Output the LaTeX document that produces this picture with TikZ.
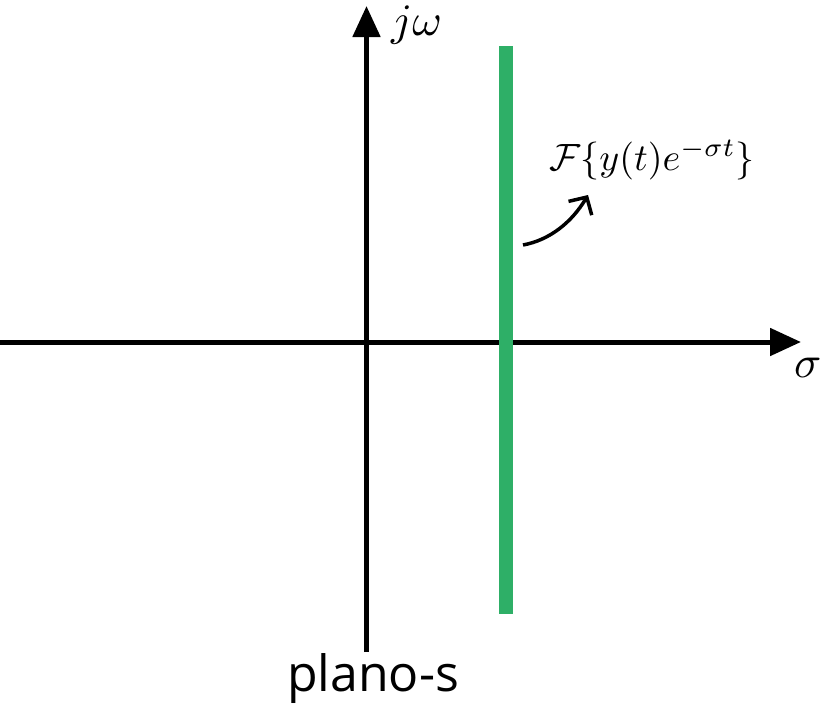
\documentclass[tikz,border=0pt]{standalone}
\usepackage{graphicx}
\usepackage{fontspec}
\newfontfamily\labelfont{Open Sans}
\usetikzlibrary{arrows.meta}
\definecolor{sgreen}{RGB}{46,175,103}
\tikzset{
  axis/.style={line width=5pt, -{Triangle[length=31pt,width=27pt]}},
  band/.style={line width=14pt, draw=sgreen},
  pointer/.style={line width=3.5pt, -{Straight Barb[length=13pt,width=27pt]}},
  lbl/.style={inner sep=0pt, text=black}
}
\begin{document}
\begin{tikzpicture}[x=1pt,y=-1pt]
\useasboundingbox (0,0) rectangle (822,718);
\coordinate (xstart) at (0,342);
\coordinate (xend) at (801,342);
\coordinate (ystart) at (366.5,652);
\coordinate (yend) at (366.5,6);
\coordinate (gtop) at (505.5,46);
\coordinate (gbot) at (505.5,614);
\draw[axis] (xstart) -- (xend);
\draw[axis] (ystart) -- (yend);
\draw[band] (gtop) -- (gbot);
\node[lbl, anchor=base west] (jw) at (391,35) {\scalebox{4.5}{$j\omega$}};
\node[lbl, anchor=base west] (sig) at (794,377) {\scalebox{4.5}{$\sigma$}};
\node[lbl, anchor=base west] (ft) at (549,170) {\scalebox{3.8}{$\mathcal{F}\{y(t)e^{-\sigma t}\}$}};
\node[lbl, anchor=base] (plano) at (373,691) {\labelfont\fontsize{50}{54}\selectfont plano-s};
\coordinate (pstart) at (523,245);
\coordinate (pend) at (588,195);
\draw[pointer] (pstart) .. controls (550,240) and (572,222) .. (pend);
\end{tikzpicture}
\end{document}
